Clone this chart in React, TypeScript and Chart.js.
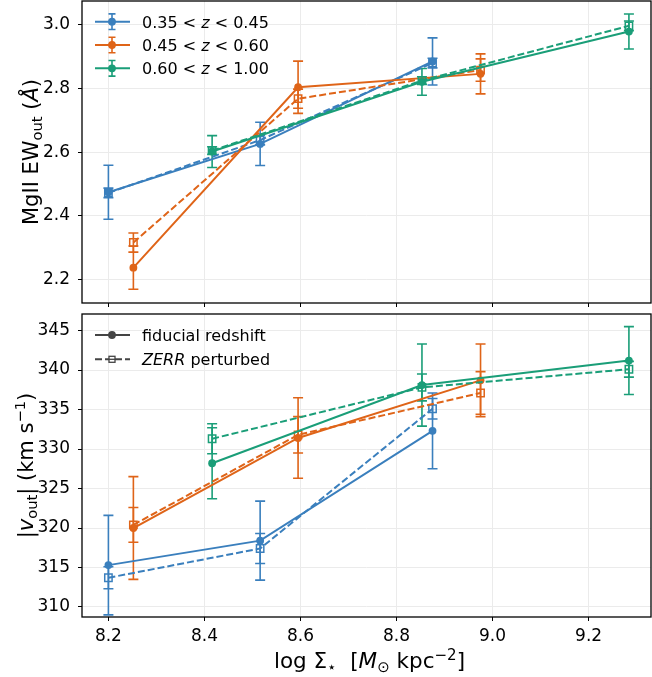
import { useEffect, useRef } from 'react';
import { Chart, registerables } from 'chart.js';
Chart.register(...registerables);

// ---------- data ----------
const xBlue = [8.2, 8.516, 8.875];
const xOrange = [8.252, 8.595, 8.975];
const xGreen = [8.416, 8.853, 9.284];

const ewBlueFid = [2.474, 2.626, 2.885];
const ewBlueFidErr = [0.085, 0.068, 0.074];
const ewBluePert = [2.472, 2.638, 2.88];
const ewBluePertErr = [0.015, 0.015, 0.015];
const ewOrangeFid = [2.237, 2.804, 2.846];
const ewOrangeFidErr = [0.068, 0.082, 0.063];
const ewOrangePert = [2.316, 2.768, 2.858];
const ewOrangePertErr = [0.03, 0.03, 0.035];
const ewGreenFid = [2.602, 2.821, 2.979];
const ewGreenFidErr = [0.05, 0.042, 0.055];
const ewGreenPert = [2.605, 2.825, 2.997];
const ewGreenPertErr = [0.012, 0.012, 0.015];

const vBlueFid = [315.3, 318.4, 332.3];
const vBlueFidErr = [6.3, 5.0, 4.8];
const vBluePert = [313.7, 317.4, 335.1];
const vBluePertErr = [1.4, 1.9, 1.3];
const vOrangeFid = [320.0, 331.4, 338.7];
const vOrangeFidErr = [6.5, 5.1, 4.6];
const vOrangePert = [320.4, 331.8, 337.1];
const vOrangePertErr = [2.2, 2.3, 2.7];
const vGreenFid = [328.2, 338.1, 341.2];
const vGreenFidErr = [4.5, 5.2, 4.3];
const vGreenPert = [331.3, 337.8, 340.1];
const vGreenPertErr = [1.9, 1.7, 1.0];

const xTicks = [8.2, 8.4, 8.6, 8.8, 9.0, 9.2];
const ewTicks = [2.2, 2.4, 2.6, 2.8, 3.0];
const vTicks = [310, 315, 320, 325, 330, 335, 340, 345];

const zLo = ['0.35', '0.45', '0.60'];
const zHi = ['0.45', '0.60', '1.00'];
const styleLabels = ['fiducial redshift', 'perturbed'];

const BLUE = '#3a7fbd';
const ORANGE = '#df6418';
const GREEN = '#1a9e78';
const COLORS = [BLUE, ORANGE, GREEN];
const FONT = '"DejaVu Sans", "Liberation Sans", sans-serif';
const LW = 2;
const DASH = [7, 3];

// ---------- rich text ----------
type Seg = { t: string; it?: boolean; sub?: boolean; sup?: boolean };
const fnt = (s: number, it?: boolean) => `${it ? 'italic ' : ''}${s}px ${FONT}`;
function segSize(seg: Seg, size: number) { return seg.sub || seg.sup ? size * 0.7 : size; }
function richWidth(ctx: CanvasRenderingContext2D, segs: Seg[], size: number) {
  let w = 0;
  for (const s of segs) { ctx.font = fnt(segSize(s, size), s.it); w += ctx.measureText(s.t).width; }
  return w;
}
function drawRich(ctx: CanvasRenderingContext2D, segs: Seg[], x: number, y: number, size: number, align: 'left' | 'center') {
  ctx.save();
  ctx.textBaseline = 'alphabetic';
  ctx.textAlign = 'left';
  ctx.fillStyle = '#000';
  let cx = align === 'center' ? x - richWidth(ctx, segs, size) / 2 : x;
  for (const s of segs) {
    const sz = segSize(s, size);
    const dy = s.sub ? size * 0.2 : s.sup ? -size * 0.38 : 0;
    ctx.font = fnt(sz, s.it);
    ctx.fillText(s.t, cx, y + dy);
    cx += ctx.measureText(s.t).width;
  }
  ctx.restore();
}
function drawRichRot(ctx: CanvasRenderingContext2D, segs: Seg[], x: number, y: number, size: number) {
  ctx.save();
  ctx.translate(x, y);
  ctx.rotate(-Math.PI / 2);
  drawRich(ctx, segs, 0, 0, size, 'center');
  ctx.restore();
}

// ---------- datasets ----------
function ds(xs: number[], ys: number[], errs: number[], color: string, dashed: boolean, idx: number) {
  return {
    data: xs.map((x, i) => ({ x, y: ys[i] })),
    errors: errs,
    showLine: true,
    borderColor: color,
    backgroundColor: color,
    borderWidth: LW,
    borderDash: dashed ? DASH : [],
    pointStyle: dashed ? 'rect' : 'circle',
    pointRadius: dashed ? 5.2 : 3.9,
    pointHoverRadius: dashed ? 5.2 : 3.9,
    pointBorderColor: color,
    pointBackgroundColor: dashed ? 'rgba(255,255,255,0)' : color,
    pointBorderWidth: dashed ? 1.5 : 0,
    fill: false,
    tension: 0,
    order: -idx,
  };
}

const errorBarPlugin = {
  id: 'errbars',
  beforeDatasetsDraw(chart: any) {
    const ctx = chart.ctx;
    const xs = chart.scales.x;
    const ys = chart.scales.y;
    chart.data.datasets.forEach((d: any) => {
      ctx.save();
      ctx.strokeStyle = d.borderColor;
      ctx.lineWidth = 1.6;
      d.data.forEach((p: any, i: number) => {
        const e = d.errors[i];
        const px = xs.getPixelForValue(p.x);
        const y1 = ys.getPixelForValue(p.y - e);
        const y2 = ys.getPixelForValue(p.y + e);
        ctx.beginPath();
        ctx.moveTo(px, y1); ctx.lineTo(px, y2);
        ctx.moveTo(px - 5, y1); ctx.lineTo(px + 5, y1);
        ctx.moveTo(px - 5, y2); ctx.lineTo(px + 5, y2);
        ctx.stroke();
      });
      ctx.restore();
    });
  },
};

const boxPlugin = {
  id: 'box',
  afterDraw(chart: any) {
    const { left, right, top, bottom } = chart.chartArea;
    const ctx = chart.ctx;
    ctx.save();
    ctx.strokeStyle = '#000';
    ctx.lineWidth = 1.3;
    ctx.strokeRect(left, top, right - left, bottom - top);
    ctx.restore();
  },
};

function scales(yMin: number, yMax: number, yTickVals: number[], yFmt: (v: number) => string, showX: boolean, xHeight: number) {
  return {
    x: {
      type: 'linear',
      min: 8.145,
      max: 9.33,
      afterBuildTicks: (s: any) => { s.ticks = xTicks.map((v) => ({ value: v })); },
      afterFit: (s: any) => { s.height = xHeight; s.paddingLeft = 0; s.paddingRight = 0; s.paddingTop = 0; s.paddingBottom = 0; },
      grid: { color: '#ebebeb', lineWidth: 1, drawTicks: true, tickLength: 4, tickColor: '#000', tickWidth: 1 },
      border: { display: false },
      ticks: { display: showX, color: '#000', padding: 5, font: { family: FONT, size: 17 }, callback: (v: any) => Number(v).toFixed(1), maxRotation: 0 },
    },
    y: {
      type: 'linear',
      min: yMin,
      max: yMax,
      afterBuildTicks: (s: any) => { s.ticks = yTickVals.map((v) => ({ value: v })); },
      afterFit: (s: any) => { s.width = 82; s.paddingLeft = 0; s.paddingRight = 0; s.paddingTop = 0; s.paddingBottom = 0; },
      grid: { color: '#ebebeb', lineWidth: 1, drawTicks: true, tickLength: 4, tickColor: '#000', tickWidth: 1 },
      border: { display: false },
      ticks: { color: '#000', padding: 8, font: { family: FONT, size: 17 }, callback: (v: any) => yFmt(Number(v)) },
    },
  };
}

export default function App() {
  const topRef = useRef<HTMLCanvasElement>(null);
  const botRef = useRef<HTMLCanvasElement>(null);

  useEffect(() => {
    const topLegend = {
      id: 'topLegend',
      afterDraw(chart: any) {
        const ctx = chart.ctx;
        const { left, top } = chart.chartArea;
        for (let i = 0; i < 3; i++) {
          const y = top + 20.7 + i * 23.3;
          const c = COLORS[i];
          ctx.save();
          ctx.strokeStyle = c;
          ctx.lineWidth = LW;
          ctx.beginPath();
          ctx.moveTo(left + 13, y); ctx.lineTo(left + 48, y);
          ctx.stroke();
          ctx.lineWidth = 1.6;
          const mx = left + 30;
          ctx.beginPath();
          ctx.moveTo(mx, y - 7.8); ctx.lineTo(mx, y + 7.8);
          ctx.moveTo(mx - 3.5, y - 7.8); ctx.lineTo(mx + 3.5, y - 7.8);
          ctx.moveTo(mx - 3.5, y + 7.8); ctx.lineTo(mx + 3.5, y + 7.8);
          ctx.stroke();
          ctx.fillStyle = c;
          ctx.beginPath(); ctx.arc(mx, y, 3.9, 0, Math.PI * 2); ctx.fill();
          ctx.restore();
          drawRich(ctx, [{ t: `${zLo[i]} < ` }, { t: 'z', it: true }, { t: ` < ${zHi[i]}` }], left + 60, y + 5.8, 16, 'left');
        }
        drawRichRot(ctx, [{ t: 'MgII EW' }, { t: 'out', sub: true }, { t: ' (' }, { t: 'Å', it: true }, { t: ')' }], 38, (chart.chartArea.top + chart.chartArea.bottom) / 2, 21);
      },
    };
    const botLegend = {
      id: 'botLegend',
      afterDraw(chart: any) {
        const ctx = chart.ctx;
        const { left, top, bottom, right } = chart.chartArea;
        const c = '#444444';
        const mx = left + 30;
        let y = top + 21;
        ctx.save();
        ctx.strokeStyle = c; ctx.fillStyle = c; ctx.lineWidth = LW;
        ctx.beginPath(); ctx.moveTo(left + 13, y); ctx.lineTo(left + 48, y); ctx.stroke();
        ctx.beginPath(); ctx.arc(mx, y, 3.9, 0, Math.PI * 2); ctx.fill();
        y = top + 45.3;
        ctx.setLineDash(DASH);
        ctx.beginPath(); ctx.moveTo(left + 13, y); ctx.lineTo(left + 48, y); ctx.stroke();
        ctx.setLineDash([]);
        ctx.lineWidth = 1.3;
        ctx.fillStyle = '#fff';
        ctx.fillRect(mx - 3, y - 3, 6, 6);
        ctx.strokeRect(mx - 3, y - 3, 6, 6);
        ctx.beginPath(); ctx.moveTo(mx - 3, y); ctx.lineTo(mx + 3, y); ctx.stroke();
        ctx.restore();
        drawRich(ctx, [{ t: styleLabels[0] }], left + 60, top + 21 + 5.8, 16, 'left');
        drawRich(ctx, [{ t: 'ZERR', it: true }, { t: ' ' + styleLabels[1] }], left + 60, top + 45.3 + 5.8, 16, 'left');
        drawRichRot(ctx, [{ t: '|' }, { t: 'v', it: true }, { t: 'out', sub: true }, { t: '| (km s' }, { t: '−1', sup: true }, { t: ')' }], 33, (top + bottom) / 2, 21);
        drawRich(ctx, [{ t: 'log Σ' }, { t: '⋆', sub: true }, { t: '  [' }, { t: 'M', it: true }, { t: '⊙', sub: true }, { t: ' kpc' }, { t: '−2', sup: true }, { t: ']' }], (left + right) / 2 + 3, bottom + 51, 21.5, 'center');
      },
    };

    const common = {
      animation: false,
      responsive: false,
      devicePixelRatio: 1,
      events: [],
      plugins: { legend: { display: false }, tooltip: { enabled: false } },
    };

    const c1 = new Chart(topRef.current!, {
      type: 'scatter',
      data: {
        datasets: [
          ds(xBlue, ewBlueFid, ewBlueFidErr, BLUE, false, 0),
          ds(xBlue, ewBluePert, ewBluePertErr, BLUE, true, 1),
          ds(xOrange, ewOrangeFid, ewOrangeFidErr, ORANGE, false, 2),
          ds(xOrange, ewOrangePert, ewOrangePertErr, ORANGE, true, 3),
          ds(xGreen, ewGreenFid, ewGreenFidErr, GREEN, false, 4),
          ds(xGreen, ewGreenPert, ewGreenPertErr, GREEN, true, 5),
        ] as any,
      },
      options: {
        ...common,
        layout: { autoPadding: false, padding: { top: 1, right: 1, left: 0, bottom: 0 } },
        scales: scales(2.126, 3.075, ewTicks, (v) => v.toFixed(1), false, 7),
      } as any,
      plugins: [errorBarPlugin, boxPlugin, topLegend],
    });

    const c2 = new Chart(botRef.current!, {
      type: 'scatter',
      data: {
        datasets: [
          ds(xBlue, vBlueFid, vBlueFidErr, BLUE, false, 0),
          ds(xBlue, vBluePert, vBluePertErr, BLUE, true, 1),
          ds(xOrange, vOrangeFid, vOrangeFidErr, ORANGE, false, 2),
          ds(xOrange, vOrangePert, vOrangePertErr, ORANGE, true, 3),
          ds(xGreen, vGreenFid, vGreenFidErr, GREEN, false, 4),
          ds(xGreen, vGreenPert, vGreenPertErr, GREEN, true, 5),
        ] as any,
      },
      options: {
        ...common,
        layout: { autoPadding: false, padding: { top: 4, right: 1, left: 0, bottom: 0 } },
        scales: scales(308.73, 347.1, vTicks, (v) => String(Math.round(v)), true, 60),
      } as any,
      plugins: [errorBarPlugin, boxPlugin, botLegend],
    });

    return () => { c1.destroy(); c2.destroy(); };
  }, []);

  return (
    <div style={{ position: 'fixed', left: 0, top: 0, width: 652, height: 677, background: '#fff' }}>
      <canvas ref={topRef} width={652} height={310} style={{ position: 'absolute', left: 0, top: 0, width: 652, height: 310 }} />
      <canvas ref={botRef} width={652} height={367} style={{ position: 'absolute', left: 0, top: 310, width: 652, height: 367 }} />
    </div>
  );
}
